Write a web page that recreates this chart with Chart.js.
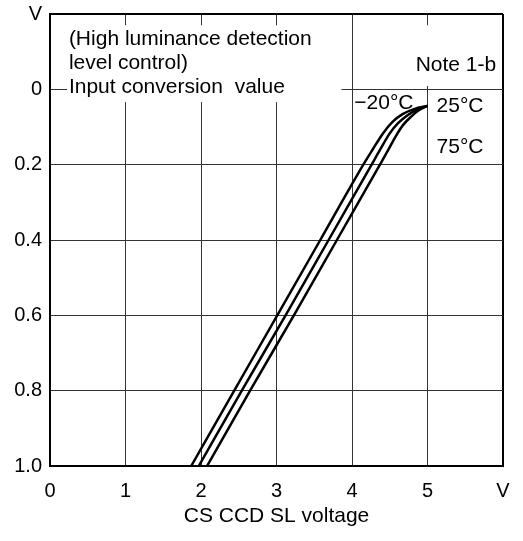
<!DOCTYPE html>
<html>
<head>
<meta charset="utf-8">
<script src="https://cdn.jsdelivr.net/npm/chart.js@4.4.1/dist/chart.umd.min.js"></script>
<style>
  html, body { margin:0; padding:0; background:#fff; }
  #wrap { width:523px; height:541px; }
</style>
</head>
<body>
<div id="wrap"><canvas id="chart" width="523" height="541"></canvas></div>
<script>
  // ── DATA ────────────────────────────────────────────────────────────────
  const xTicks = [0, 1, 2, 3, 4, 5, 6];
  const yTicks = [-0.2, 0, 0.2, 0.4, 0.6, 0.8, 1.0];

  const seriesNames = ['−20°C', '25°C', '75°C'];
  // input conversion value (V) vs CS CCD SL voltage (V)
  const minus20Y = [1.0, 0.8, 0.6, 0.4, 0.2, 0.161, 0.117, 0.086, 0.066, 0.052, 0.044];
  const minus20X = [1.87, 2.44, 3.01, 3.58, 4.15, 4.27, 4.41, 4.54, 4.67, 4.83, 5.0];
  const plus25Y  = [1.0, 0.8, 0.6, 0.4, 0.2, 0.161, 0.117, 0.090, 0.068, 0.053, 0.044];
  const plus25X  = [1.97, 2.54, 3.12, 3.69, 4.26, 4.37, 4.50, 4.61, 4.74, 4.87, 5.0];
  const plus75Y  = [1.0, 0.8, 0.6, 0.4, 0.2, 0.161, 0.126, 0.095, 0.073, 0.055, 0.044];
  const plus75X  = [2.08, 2.65, 3.23, 3.80, 4.37, 4.48, 4.575, 4.675, 4.78, 4.89, 5.0];

  // text notes (data units), masks hide the grid behind them
  const notes = [
    { text:'(High luminance detection', x:0.25, y:-0.133, align:'left' },
    { text:'level control)',            x:0.25, y:-0.07,  align:'left' },
    { text:'Input conversion  value',   x:0.25, y:-0.006, align:'left' },
    { text:'Note 1-b',                  x:5.91, y:-0.063, align:'right' },
    { text:'−20°C',                     x:4.03, y:0.036,  align:'left' },
    { text:'25°C',                      x:5.12, y:0.046,  align:'left' },
    { text:'75°C',                      x:5.12, y:0.154,  align:'left' },
  ];
  const masks = [
    { x0:0.225, x1:3.86, y0:-0.17, y1:0.034 },
    { x0:4.83,  x1:5.92, y0:-0.17, y1:-0.009 },
  ];

  const FONT = '"Liberation Sans", Arial, sans-serif';

  function pts(xs, ys) { return xs.map((x,i)=>({ x, y: ys[i] })); }

  const notesPlugin = {
    id: 'notes',
    beforeDatasetsDraw(chart) {
      const { ctx, scales:{ x, y } } = chart;
      ctx.save();
      ctx.fillStyle = '#fff';
      masks.forEach(m => {
        const l = x.getPixelForValue(m.x0), r = x.getPixelForValue(m.x1);
        const t = y.getPixelForValue(m.y0), b = y.getPixelForValue(m.y1);
        ctx.fillRect(l, t, r-l, b-t);
      });
      ctx.fillStyle = '#000';
      ctx.font = '21px ' + FONT;
      ctx.textBaseline = 'middle';
      notes.forEach(n => {
        ctx.textAlign = n.align;
        ctx.fillText(n.text, x.getPixelForValue(n.x), y.getPixelForValue(n.y));
      });
      ctx.restore();
    }
  };

  const lineStyle = { borderColor:'#000', borderWidth:2.5, pointRadius:0, fill:false, cubicInterpolationMode:'monotone' };

  new Chart(document.getElementById('chart'), {
    type: 'line',
    data: {
      datasets: [
        { label: seriesNames[0], data: pts(minus20X, minus20Y), ...lineStyle },
        { label: seriesNames[1], data: pts(plus25X, plus25Y),   ...lineStyle },
        { label: seriesNames[2], data: pts(plus75X, plus75Y),   ...lineStyle },
      ]
    },
    options: {
      responsive: false,
      animation: false,
      devicePixelRatio: 1,
      layout: { padding: { left:0, top:14, right:20, bottom:0 } },
      plugins: { legend:{ display:false }, tooltip:{ enabled:false } },
      scales: {
        x: {
          type: 'linear', min: 0, max: 6,
          afterBuildTicks: s => { s.ticks = xTicks.map(v=>({ value:v })); },
          afterFit: s => { s.height = 75; s.paddingLeft = 0; s.paddingRight = 0; },
          grid: {
            drawTicks: false,
            color: c => c.tick && c.tick.value === 6 ? '#000' : '#333',
            lineWidth: c => c.tick && c.tick.value === 6 ? 2 : 1,
          },
          border: { display:true, color:'#000', width:2 },
          ticks: {
            padding: 13, color:'#000', font:{ family:FONT, size:20 }, maxRotation:0,
            callback: v => v === 6 ? 'V' : String(v)
          },
          title: {
            display: true, text: 'CS CCD SL voltage', color:'#000',
            font:{ family:FONT, size:21 }, padding:{ top:0, bottom:12 }
          }
        },
        y: {
          type: 'linear', min: -0.2, max: 1.0, reverse: true,
          afterBuildTicks: s => { s.ticks = yTicks.map(v=>({ value:v })); },
          afterFit: s => { s.width = 50; s.paddingTop = 0; s.paddingBottom = 0; },
          grid: {
            drawTicks: false,
            color: c => c.tick && c.tick.value === -0.2 ? '#000' : '#333',
            lineWidth: c => c.tick && c.tick.value === -0.2 ? 2 : 1,
          },
          border: { display:true, color:'#000', width:2 },
          ticks: {
            padding: 8, color:'#000', font:{ family:FONT, size:20 },
            callback: v => v === -0.2 ? 'V' : (v === 0 ? '0' : Number(v).toFixed(1))
          }
        }
      }
    },
    plugins: [notesPlugin]
  });
</script>
</body>
</html>
